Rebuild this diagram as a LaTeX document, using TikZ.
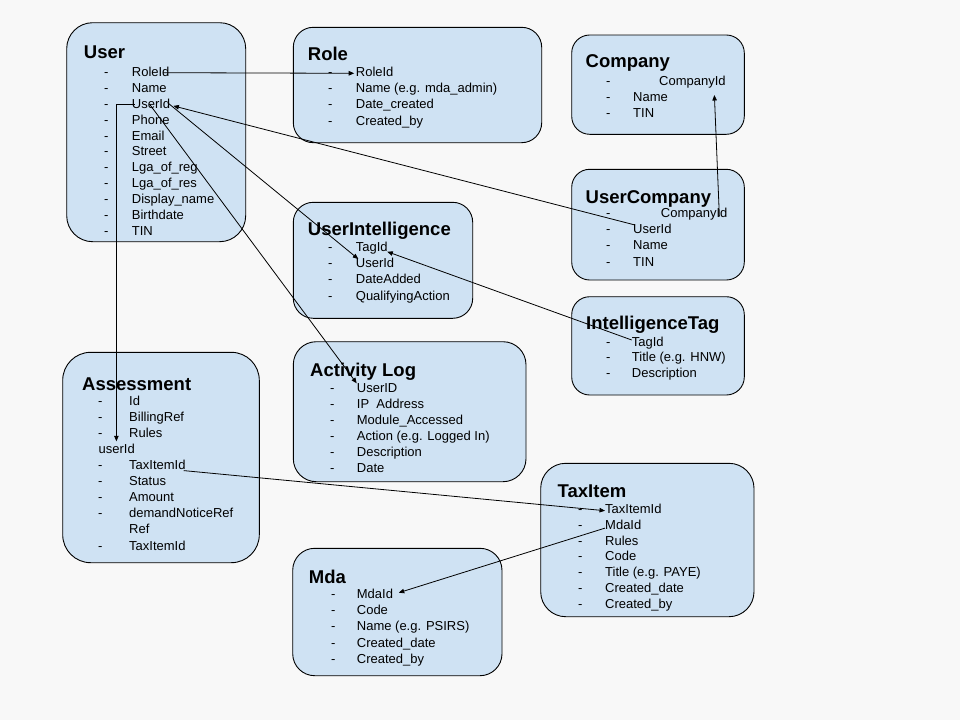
\documentclass[tikz,border=0pt]{standalone}
\usepackage{fontspec}
\setmainfont{Liberation Sans}
\usetikzlibrary{arrows.meta,calc}
\definecolor{boxblue}{HTML}{CFE2F3}
\definecolor{bgray}{HTML}{F8F8F8}
\tikzset{
  entity/.style={draw=black, line width=0.9pt, fill=boxblue, rounded corners=#1,
    anchor=north west, inner sep=0pt, outer sep=0pt},
  ttl/.style={anchor=base west, inner sep=0pt, font=\fontsize{18.5}{20}\selectfont\bfseries},
  fldtxt/.style={anchor=base west, inner sep=0pt, font=\fontsize{13}{15}\selectfont},
  link/.style={draw=black, line width=0.8pt, -{Triangle[length=5.5pt,width=4.5pt]}},
}
\newcommand\fldrow[5]{%
  \node[fldtxt] (#1-d) at (#2,#4) {-};
  \node[fldtxt] (#1) at (#3,#4) {#5};}
\newcommand\fldplain[4]{\node[fldtxt] (#1) at (#2,#3) {#4};}
\begin{document}
\begin{tikzpicture}[x=1pt,y=-1pt]
\fill[bgray] (0,0) rectangle (960,720);
\useasboundingbox (0,0) rectangle (960,720);

% boxes
\node[entity=26pt, minimum width=179pt, minimum height=219pt] (user) at (66.7,22.7) {};
\node[entity=20pt, minimum width=248.4pt, minimum height=115.4pt] (role) at (293.3,27.3) {};
\node[entity=18pt, minimum width=172.6pt, minimum height=99.3pt] (company) at (571.7,35) {};
\node[entity=18pt, minimum width=172.6pt, minimum height=110.7pt] (usercompany) at (571.7,169.3) {};
\node[entity=18pt, minimum width=172.6pt, minimum height=98.3pt] (inteltag) at (571.7,296.7) {};
\node[entity=20pt, minimum width=179.4pt, minimum height=116pt] (userintel) at (293.3,202.3) {};
\node[entity=28pt, minimum width=196.6pt, minimum height=210.4pt] (assessment) at (62.7,352.3) {};
\node[entity=23pt, minimum width=232.7pt, minimum height=140pt] (actlog) at (293.3,341.7) {};
\node[entity=25pt, minimum width=213.3pt, minimum height=153.4pt] (taxitem) at (540.7,463.3) {};
\node[entity=22pt, minimum width=209.3pt, minimum height=127.4pt] (mda) at (292.7,548.3) {};

% User
\node[ttl] (user-t) at (83.7,58.5) {User};
\fldrow{u-roleid}{103.8}{131.7}{76.7}{RoleId}
\fldrow{u-name}{103.8}{131.7}{92.5}{Name}
\fldrow{u-userid}{103.8}{131.7}{108.4}{UserId}
\fldrow{u-phone}{103.8}{131.7}{124.2}{Phone}
\fldrow{u-email}{103.8}{131.7}{140.0}{Email}
\fldrow{u-street}{103.8}{131.7}{155.9}{Street}
\fldrow{u-lgareg}{103.8}{131.7}{171.7}{Lga\_of\_reg}
\fldrow{u-lgares}{103.8}{131.7}{187.5}{Lga\_of\_res}
\fldrow{u-dname}{103.8}{131.7}{203.3}{Display\_name}
\fldrow{u-birth}{103.8}{131.7}{219.2}{Birthdate}
\fldrow{u-tin}{103.8}{131.7}{235.0}{TIN}

% Role
\node[ttl] (role-t) at (307.7,60.7) {Role};
\fldrow{r-roleid}{327.8}{355.7}{76.7}{RoleId}
\fldrow{r-name}{327.8}{355.7}{92.8}{Name (e.g. mda\_admin)}
\fldrow{r-date}{327.8}{355.7}{108.9}{Date\_created}
\fldrow{r-by}{327.8}{355.7}{125.0}{Created\_by}

% Company
\node[ttl] (company-t) at (585.5,67.5) {Company};
\fldrow{c-companyid}{606}{659}{85}{CompanyId}
\fldrow{c-name}{606}{633}{101.1}{Name}
\fldrow{c-tin}{606}{633}{117.2}{TIN}

% UserCompany
\node[ttl] (uc-t) at (585.5,203.5) {UserCompany};
\fldrow{uc-companyid}{606}{660.7}{217.5}{CompanyId}
\fldrow{uc-userid}{606}{633}{233.7}{UserId}
\fldrow{uc-name}{606}{633}{249.9}{Name}
\fldrow{uc-tin}{606}{633}{266.1}{TIN}

% IntelligenceTag
\node[ttl] (it-t) at (586,329) {IntelligenceTag};
\fldrow{it-tagid}{606}{631.7}{346}{TagId}
\fldrow{it-title}{606}{631.7}{361.7}{Title (e.g. HNW)}
\fldrow{it-desc}{606}{631.7}{377.4}{Description}

% UserIntelligence
\node[ttl] (ui-t) at (307.7,235) {UserIntelligence};
\fldrow{ui-tagid}{328}{355.7}{251.7}{TagId}
\fldrow{ui-userid}{328}{355.7}{267.8}{UserId}
\fldrow{ui-date}{328}{355.7}{283.9}{DateAdded}
\fldrow{ui-qa}{328}{355.7}{300}{QualifyingAction}

% Assessment
\node[ttl] (a-t) at (82,390) {Assessment};
\fldrow{a-id}{98}{129}{405}{Id}
\fldrow{a-billing}{98}{129}{421.1}{BillingRef}
\fldrow{a-rules}{98}{129}{437.2}{Rules}
\fldplain{a-userid}{98.4}{453.3}{userId}
\fldrow{a-taxitemid}{98}{129}{469.4}{TaxItemId}
\fldrow{a-status}{98}{129}{485.5}{Status}
\fldrow{a-amount}{98}{129}{501.6}{Amount}
\fldrow{a-demand}{98}{129}{517.7}{demandNoticeRef}
\fldplain{a-ref}{129}{533.8}{Ref}
\fldrow{a-taxitemid2}{98}{129}{550}{TaxItemId}

% Activity Log
\node[ttl] (al-t) at (310,376.5) {Activity Log};
\fldrow{al-userid}{330}{356.7}{392.3}{UserID}
\fldrow{al-ip}{330}{356.7}{408.3}{IP\ \ Address}
\fldrow{al-module}{330}{356.7}{424.3}{Module\_Accessed}
\fldrow{al-action}{330}{356.7}{440.3}{Action (e.g. Logged In)}
\fldrow{al-desc}{330}{356.7}{456.3}{Description}
\fldrow{al-date}{330}{356.7}{472.3}{Date}

% TaxItem
\node[ttl] (t-t) at (557.5,497.5) {TaxItem};
\fldrow{t-taxitemid}{578}{605}{513.3}{TaxItemId}
\fldrow{t-mdaid}{578}{605}{529.1}{MdaId}
\fldrow{t-rules}{578}{605}{545.0}{Rules}
\fldrow{t-code}{578}{605}{560.8}{Code}
\fldrow{t-title}{578}{605}{576.6}{Title (e.g. PAYE)}
\fldrow{t-cdate}{578}{605}{592.5}{Created\_date}
\fldrow{t-by}{578}{605}{608.3}{Created\_by}

% Mda
\node[ttl] (m-t) at (308.7,583) {Mda};
\fldrow{m-mdaid}{331}{356.7}{598.3}{MdaId}
\fldrow{m-code}{331}{356.7}{614.6}{Code}
\fldrow{m-name}{331}{356.7}{630.8}{Name (e.g. PSIRS)}
\fldrow{m-cdate}{331}{356.7}{647.1}{Created\_date}
\fldrow{m-by}{331}{356.7}{663.3}{Created\_by}

% connectors
\draw[link] ($(u-roleid.base east)+(-6.5,-4)$) -- ($(r-roleid.base west)+(-1.5,-3.4)$);
\draw[link] ($(uc-userid.base west)+(2,-8.7)$) -- ($(u-userid.base east)+(3,-2.5)$);
\draw[link] ($(u-userid.base west)+(36.3,-5.4)$) -- ($(ui-userid.base west)+(2.6,-8.8)$);
\draw[link] ($(u-userid.base west)+(18,-4)$) -- ($(al-userid.base west)+(0,-9)$);
\draw[link] ($(u-userid.base west)+(3,-4.4)$) -| ($(a-userid.base west)+(18,-12)$);
\draw[link] ($(a-taxitemid.base east)+(-2,1.2)$) -- ($(t-taxitemid.base west)+(0,-2.6)$);
\draw[link] ($(t-mdaid.base west)+(0,-1)$) -- ($(m-mdaid.base east)+(5.5,-5.6)$);
\draw[link] ($(uc-companyid.base east)+(-8.2,-1)$) -- ($(c-companyid.base east)+(-11.5,10)$);
\draw[link] ($(it-tagid.base west)+(0,-6)$) -- ($(ui-tagid.base east)+(-0.6,0)$);
\end{tikzpicture}
\end{document}
